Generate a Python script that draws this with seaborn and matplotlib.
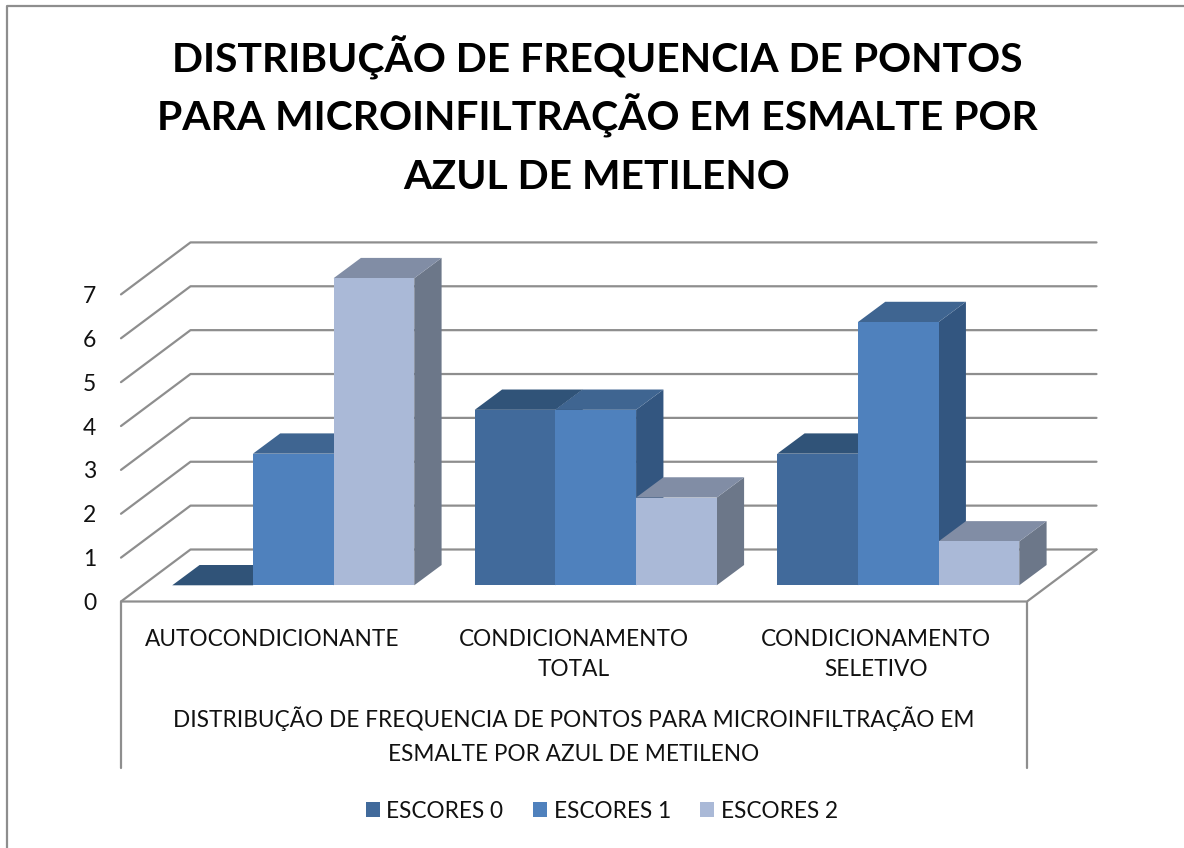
import matplotlib
matplotlib.use("Agg")
import matplotlib.pyplot as plt
from matplotlib.lines import Line2D
from matplotlib.patches import Polygon
import pandas as pd
import seaborn as sns

title_lines = ["DISTRIBUÇÃO DE FREQUENCIA DE PONTOS", "PARA MICROINFILTRAÇÃO EM ESMALTE POR", "AZUL DE METILENO"]
title_baselines = [72, 130.5, 189]
AXIS_LABEL = "DISTRIBUÇÃO DE FREQUENCIA DE PONTOS PARA MICROINFILTRAÇÃO EM\nESMALTE POR AZUL DE METILENO"
categories = ["AUTOCONDICIONANTE", "CONDICIONAMENTO\nTOTAL", "CONDICIONAMENTO\nSELETIVO"]
series_names = ["ESCORES 0", "ESCORES 1", "ESCORES 2"]
escores_0 = [0, 4, 3]
escores_1 = [3, 4, 6]
escores_2 = [7, 2, 1]
y_ticks = [0, 1, 2, 3, 4, 5, 6, 7]

front_colors = ["#416A9B", "#4F81BD", "#AAB9D7"]
top_colors = ["#305378", "#3F6591", "#818DA5"]
side_colors = ["#2F5078", "#335680", "#6C7789"]
GRID = "#8E8E8E"

W, H = 1184, 848
FONT = "Lato"
unit = 43.87  # pixels per score
band = 302.0  # pixels per category


def place(x_left, y_zero, band_px=band):
    # axes with 3 category bands and 8 score units, zero at the given pixel
    return [x_left / W, (H - y_zero) / H, 3 * band_px / W, 8 * unit / H]


def draw_walls(ax):
    dx, dy = 69.5 / band, 52.0 / unit
    x0, x1 = -0.5, 2.5
    for v in y_ticks:
        ax.plot([x0, x0 + dx, x1 + dx], [v, v + dy, v + dy], color=GRID, lw=1.6, clip_on=False)
    ax.plot([x0, x1, x1 + dx], [0, 0, dy], color=GRID, lw=1.6, clip_on=False)
    low = -166.5 / unit
    ax.plot([x0, x0], [0, low], color=GRID, lw=1.6, clip_on=False)
    ax.plot([x1, x1], [0, low], color=GRID, lw=1.6, clip_on=False)


def draw_depth(ax):
    # seaborn draws the front faces, the sides and tops are sheared from them
    dx, dy = 27.3 / band, 20.3 / unit
    n = len(categories)
    # the patches after the real bars are seaborn's empty legend rectangles
    bars = [(p, i) for i, p in enumerate(ax.patches[:n * len(series_names)])]
    bars.sort(key=lambda b: b[0].get_x())
    for order, (p, i) in enumerate(bars):
        s = i // n
        x, w, h = p.get_x(), p.get_width(), p.get_height()
        z = 3 + order
        side = [(x + w, 0), (x + w + dx, dy), (x + w + dx, h + dy), (x + w, h)]
        top = [(x, h), (x + dx, h + dy), (x + w + dx, h + dy), (x + w, h)]
        ax.add_patch(Polygon(side, closed=True, fc=side_colors[s], lw=0, zorder=z, clip_on=False))
        ax.add_patch(Polygon(top, closed=True, fc=top_colors[s], lw=0, zorder=z, clip_on=False))
        p.set_zorder(z + 0.5)


sns.set_theme(style="white")
plt.rcParams["font.family"] = [FONT, "DejaVu Sans"]
plt.rcParams["text.color"] = "#111111"

df = pd.DataFrame({
    "categoria": categories * 3,
    "escore": [s for s in series_names for _ in categories],
    "pontos": escores_0 + escores_1 + escores_2,
})

fig = plt.figure(figsize=(W / 100, H / 100), dpi=100, facecolor="white")

# walls, floor, tick labels
wall = fig.add_axes(place(121, 601.5))
wall.set_xlim(-0.5, 2.5)
wall.set_ylim(0, 8)
wall.patch.set_alpha(0)
sns.despine(ax=wall, left=True, bottom=True)
draw_walls(wall)
wall.set_yticks(y_ticks)
wall.set_yticklabels([str(v) for v in y_ticks], fontsize=16.5)
wall.set_xticks(range(3))
wall.set_xticklabels(categories, fontsize=16.3, linespacing=1.55)
wall.tick_params(axis="y", length=0, pad=18, labelcolor="#111111")
wall.tick_params(axis="x", length=0, pad=19.8, labelcolor="#111111")
wall.set_xlabel(AXIS_LABEL, fontsize=16.3, linespacing=1.76, labelpad=18.8, color="#111111")

# bars
ax = fig.add_axes(place(142, 585.3, 302.5))
ax.patch.set_alpha(0)
sns.barplot(data=df, x="categoria", y="pontos", hue="escore", hue_order=series_names,
            order=categories, palette=front_colors, saturation=1, width=0.8, gap=0,
            linewidth=0, ax=ax)
ax.set_xlim(-0.5, 2.5)
ax.set_ylim(0, 8)
ax.set(xlabel="", ylabel="", xticks=[], yticks=[])
sns.despine(ax=ax, left=True, bottom=True)
draw_depth(ax)

sns.move_legend(ax, "center", bbox_to_anchor=(602 / W, 1 - 811 / H), bbox_transform=fig.transFigure,
                ncol=3, frameon=False, title=None, fontsize=16.3, handlelength=0.62, handleheight=0.62,
                handletextpad=0.3, columnspacing=1.3)

for line, base in zip(title_lines, title_baselines):
    fig.text(597 / W, 1 - base / H, line, ha="center", va="baseline", fontsize=29.4, fontweight="bold",
             color="black")

# chart frame, only top and left are inside the crop
fig.add_artist(Line2D([7 / W, 7 / W, 1], [0, 1 - 6 / H, 1 - 6 / H], color=GRID, lw=1.6))

fig.savefig("out.png", dpi=100)
